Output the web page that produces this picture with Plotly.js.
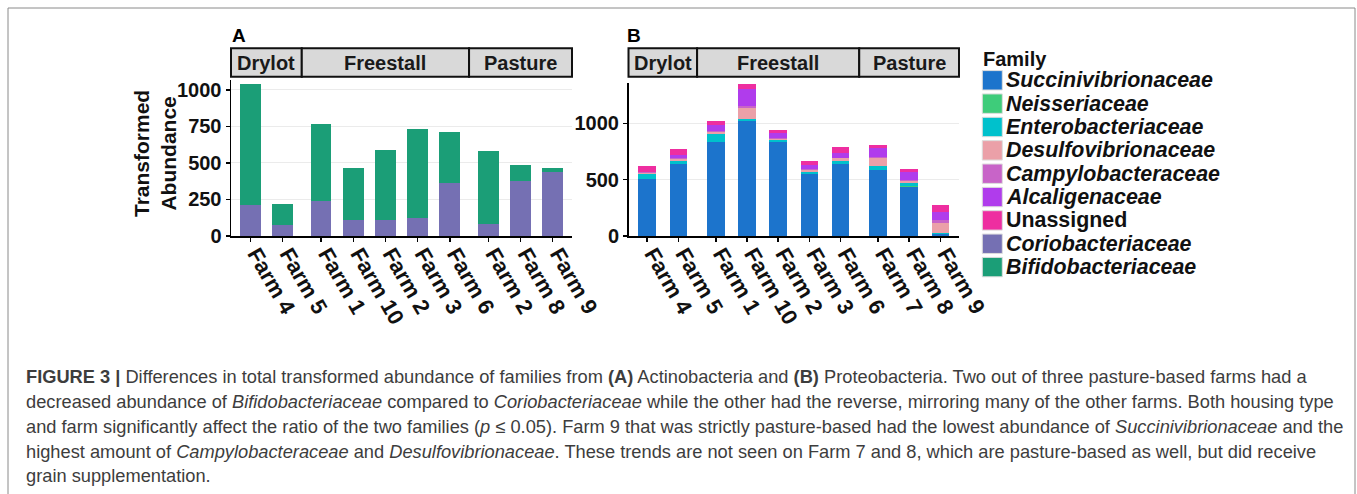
<!DOCTYPE html>
<html>
<head>
<meta charset="utf-8">
<script src="https://cdn.plot.ly/plotly-3.0.1.min.js"></script>
<style>html,body{margin:0;padding:0;background:#fff;}#chart{width:1357px;height:494px;}</style>
</head>
<body>
<div id="chart"></div>
<script>
// ---------- data ----------
const farmsA = ['Farm 4','Farm 5','Farm 1','Farm 10','Farm 2','Farm 3','Farm 6','Farm 2','Farm 8','Farm 9'];
const farmsB = ['Farm 4','Farm 5','Farm 1','Farm 10','Farm 2','Farm 3','Farm 6','Farm 7','Farm 8','Farm 9'];
const housing = ['Drylot','Drylot','Freestall','Freestall','Freestall','Freestall','Freestall','Pasture','Pasture','Pasture'];
const housingTypes = ['Drylot','Freestall','Pasture'];

// Panel A (Actinobacteria)
const coriobacteriaceae  = [212, 75, 242, 110, 112, 123, 361, 84, 377, 441];
const bifidobacteriaceae = [827, 144, 525, 356, 475, 610, 351, 500, 109, 25];

// Panel B (Proteobacteria)
const succinivibrionaceae = [503, 639, 834, 1020, 832, 547, 639, 586, 438, 18];
const neisseriaceae       = [3, 2, 3, 3, 3, 3, 3, 3, 4, 2];
const enterobacteriaceae  = [47, 24, 68, 18, 14, 21, 20, 32, 25, 8];
const desulfovibrionaceae = [8, 22, 18, 95, 12, 15, 27, 68, 22, 90];
const campylobacteraceae  = [3, 8, 10, 21, 5, 5, 7, 12, 12, 27];
const alcaligenaceae      = [8, 22, 49, 144, 51, 39, 37, 77, 68, 68];
const unassigned          = [45, 55, 38, 45, 27, 38, 60, 29, 30, 62];

const familyNames = ['Succinivibrionaceae','Neisseriaceae','Enterobacteriaceae','Desulfovibrionaceae',
  'Campylobacteraceae','Alcaligenaceae','Unassigned','Coriobacteriaceae','Bifidobacteriaceae'];
const familyColors = ['#1c74cc','#3ecc7a','#00c1cc','#eba0a8','#c864c8','#b03cec','#ee2ea0','#7570b3','#1b9e77'];

const yTicksA = [0, 250, 500, 750, 1000];
const yTicksB = [0, 500, 1000];

const captionLines = [
  '<b>FIGURE 3 |</b> Differences in total transformed abundance of families from <b>(A)</b> Actinobacteria and <b>(B)</b> Proteobacteria. Two out of three pasture-based farms had a',
  'decreased abundance of <i>Bifidobacteriaceae</i> compared to <i>Coriobacteriaceae</i> while the other had the reverse, mirroring many of the other farms. Both housing type',
  'and farm significantly affect the ratio of the two families (<i>p</i> ≤ 0.05). Farm 9 that was strictly pasture-based had the lowest abundance of <i>Succinivibrionaceae</i> and the',
  'highest amount of <i>Campylobacteraceae</i> and <i>Desulfovibrionaceae</i>. These trends are not seen on Farm 7 and 8, which are pasture-based as well, but did receive',
  'grain supplementation.'
];

// ---------- layout helpers ----------
const W = 1357, H = 494;
const px = v => v / W;
const py = v => 1 - v / H;
const FONT = 'Liberation Sans, Arial, sans-serif';

// bar positions: a gap is left between housing groups
const pos = housing.map((h, i) => i + 0.2 * housingTypes.indexOf(h));
const xRange = [pos[0] - 0.6, pos[pos.length - 1] + 0.6];

const domXA = [px(231), px(572)], domXB = [px(628.5), px(959)];
const domYA = [py(236), py(80)],  domYB = [py(236), py(83.3)];

function toPaper(v, dom) { return dom[0] + (v - xRange[0]) / (xRange[1] - xRange[0]) * (dom[1] - dom[0]); }

// ---------- traces ----------
const traces = [];
function addBar(vals, name, axis, width) {
  const ci = familyNames.indexOf(name);
  traces.push({
    type: 'bar', x: pos, y: vals, name: name, width: width,
    xaxis: axis === 'A' ? 'x' : 'x2', yaxis: axis === 'A' ? 'y' : 'y2',
    marker: {color: familyColors[ci], line: {width: 0}}, showlegend: false,
    hoverinfo: 'name+y'
  });
}
addBar(coriobacteriaceae, 'Coriobacteriaceae', 'A', 0.64);
addBar(bifidobacteriaceae, 'Bifidobacteriaceae', 'A', 0.64);
addBar(succinivibrionaceae, 'Succinivibrionaceae', 'B', 0.56);
addBar(neisseriaceae, 'Neisseriaceae', 'B', 0.56);
addBar(enterobacteriaceae, 'Enterobacteriaceae', 'B', 0.56);
addBar(desulfovibrionaceae, 'Desulfovibrionaceae', 'B', 0.56);
addBar(campylobacteraceae, 'Campylobacteraceae', 'B', 0.56);
addBar(alcaligenaceae, 'Alcaligenaceae', 'B', 0.56);
addBar(unassigned, 'Unassigned', 'B', 0.56);

// ---------- shapes & annotations ----------
const shapes = [];
const annotations = [];

// outer frame
shapes.push({type: 'rect', xref: 'paper', yref: 'paper', x0: px(8), x1: px(1355), y0: py(520), y1: py(8),
  line: {color: '#8a8a8a', width: 1}, fillcolor: 'rgba(0,0,0,0)', layer: 'below'});

// facet strips
[[domXA, 'A'], [domXB, 'B']].forEach(([dom, p]) => {
  housingTypes.forEach(h => {
    const idx = housing.map((v, i) => v === h ? i : -1).filter(i => i >= 0);
    const a = pos[idx[0]] - 0.6, b = pos[idx[idx.length - 1]] + 0.6;
    shapes.push({type: 'rect', xref: 'paper', yref: 'paper', x0: toPaper(a, dom), x1: toPaper(b, dom),
      y0: py(76.7), y1: py(48.3), fillcolor: '#d9d9d9', line: {color: '#111', width: 2}});
    annotations.push({xref: 'paper', yref: 'paper', x: toPaper((a + b) / 2, dom), y: py(63),
      text: h, showarrow: false, xanchor: 'center', yanchor: 'middle',
      font: {family: FONT, size: 20, color: '#1a1a1a', weight: 'bold'}});
  });
});

// panel labels
annotations.push({xref: 'paper', yref: 'paper', x: px(239), y: py(35.5), text: 'A', showarrow: false,
  xanchor: 'center', yanchor: 'middle', font: {family: FONT, size: 19, color: '#000', weight: 'bold'}});
annotations.push({xref: 'paper', yref: 'paper', x: px(633.5), y: py(35.5), text: 'B', showarrow: false,
  xanchor: 'center', yanchor: 'middle', font: {family: FONT, size: 19, color: '#000', weight: 'bold'}});

// y-axis title
annotations.push({xref: 'paper', yref: 'paper', x: px(155), y: py(154), text: 'Transformed<br>Abundance',
  textangle: -90, showarrow: false, xanchor: 'center', yanchor: 'middle',
  font: {family: FONT, size: 21, color: '#111', weight: 'bold'}});

// legend (Family)
annotations.push({xref: 'paper', yref: 'paper', x: px(981), y: py(58.5), text: 'Family', showarrow: false,
  xanchor: 'left', yanchor: 'middle', font: {family: FONT, size: 20, color: '#111', weight: 'bold'}});
familyNames.forEach((n, i) => {
  const cy = 80.3 + i * 23.35;
  shapes.push({type: 'rect', xref: 'paper', yref: 'paper', x0: px(982.3), x1: px(1002.3),
    y0: py(cy + 9.7), y1: py(cy - 9.7), fillcolor: familyColors[i], line: {color: '#dddddd', width: 1}});
  annotations.push({xref: 'paper', yref: 'paper', x: px(1004), y: py(cy), text: n, showarrow: false,
    xanchor: 'left', yanchor: 'middle',
    font: {family: FONT, size: 21.4, color: '#111', weight: 'bold', style: n === 'Unassigned' ? 'normal' : 'italic'}});
});

// caption
const capY = [376.7, 401.5, 426.2, 451, 475.6];
captionLines.forEach((t, i) => {
  annotations.push({xref: 'paper', yref: 'paper', x: px(24), y: py(capY[i]), text: t, showarrow: false,
    xanchor: 'left', yanchor: 'middle', font: {family: FONT, size: 18.25, color: '#3d3d3d'}});
});

// ---------- axes ----------
const xCommon = {
  range: xRange, tickvals: pos, tickangle: 60, showgrid: false, zeroline: false,
  showline: true, linecolor: '#000', linewidth: 1.5, ticks: 'outside', ticklen: 4, tickwidth: 1.5, tickcolor: '#000',
  ticklabelstandoff: -9, ticklabelshift: 6,
  tickfont: {family: FONT, size: 22, color: '#111', weight: 'bold'}, fixedrange: true
};
const yCommon = {
  showgrid: true, gridcolor: '#ebebeb', gridwidth: 1, zeroline: false,
  showline: true, linecolor: '#000', linewidth: 1.5, ticks: 'outside', ticklen: 4, tickwidth: 1.5, tickcolor: '#000',
  tickfont: {family: FONT, size: 20, color: '#111', weight: 'bold'}, fixedrange: true
};

const layout = {
  width: W, height: H, margin: {l: 0, r: 0, t: 0, b: 0},
  paper_bgcolor: '#fff', plot_bgcolor: '#fff', barmode: 'stack', showlegend: false,
  xaxis:  Object.assign({}, xCommon, {domain: domXA, anchor: 'y',  ticktext: farmsA}),
  xaxis2: Object.assign({}, xCommon, {domain: domXB, anchor: 'y2', ticktext: farmsB}),
  yaxis:  Object.assign({}, yCommon, {domain: domYA, anchor: 'x',  range: [0, 1068], tickvals: yTicksA}),
  yaxis2: Object.assign({}, yCommon, {domain: domYB, anchor: 'x2', range: [0, 1355], tickvals: yTicksB}),
  shapes: shapes, annotations: annotations
};

Plotly.newPlot('chart', traces, layout, {displayModeBar: false, staticPlot: true});
</script>
</body>
</html>
